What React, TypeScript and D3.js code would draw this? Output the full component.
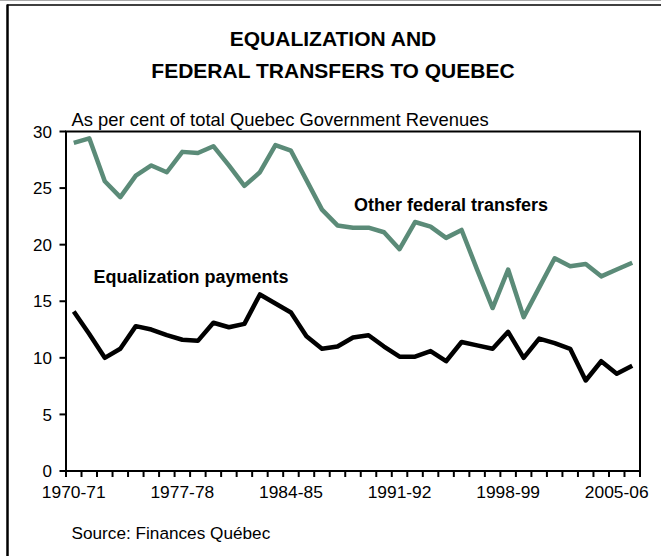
import React from "react";
import * as d3 from "d3";

const years: string[] = Array.from({ length: 37 }, (_, i) => {
  const y = 1970 + i;
  return `${y}-${String((y + 1) % 100).padStart(2, "0")}`;
});

const otherTransfers: number[] = [
  29.0, 29.4, 25.6, 24.2, 26.1, 27.0, 26.4, 28.2, 28.1, 28.7,
  27.0, 25.2, 26.4, 28.8, 28.3, 25.7, 23.1, 21.7, 21.5, 21.5,
  21.1, 19.6, 22.0, 21.6, 20.6, 21.3, 17.8, 14.4, 17.8, 13.6,
  16.2, 18.8, 18.1, 18.3, 17.2, 17.8, 18.4,
];

const equalization: number[] = [
  14.1, 12.1, 10.0, 10.8, 12.8, 12.5, 12.0, 11.6, 11.5, 13.1,
  12.7, 13.0, 15.6, 14.8, 14.0, 11.9, 10.8, 11.0, 11.8, 12.0,
  11.0, 10.1, 10.1, 10.6, 9.7, 11.4, 11.1, 10.8, 12.3, 10.0,
  11.7, 11.3, 10.8, 8.0, 9.7, 8.6, 9.3,
];

const yTicks: number[] = [0, 5, 10, 15, 20, 25, 30];
const xTickLabels: string[] = ["1970-71", "1977-78", "1984-85", "1991-92", "1998-99", "2005-06"];

const FONT = "'Liberation Sans', Arial, Helvetica, sans-serif";
const GREEN = "#5b8b78";

export default function App() {
  const W = 661;
  const H = 556;
  const left = 66;
  const right = 640;
  const top = 131.5;
  const bottom = 471;

  const x = d3.scaleBand<string>().domain(years).range([left, right]).padding(0);
  const y = d3.scaleLinear().domain([0, 30]).range([bottom, top]);
  const cx = (i: number) => (x(years[i]) as number) + x.bandwidth() / 2;

  const line = d3
    .line<number>()
    .x((_, i) => cx(i))
    .y((d) => y(d));

  const boundaries = years.map((yr) => x(yr) as number).concat([right]);

  return (
    <svg
      width={W}
      height={H}
      style={{ position: "absolute", left: 0, top: 0, background: "#fff" }}
      fontFamily={FONT}
    >
      <rect x={0} y={0} width={W} height={H} fill="#fff" />
      <line x1={0} x2={W} y1={0.5} y2={0.5} stroke="#aaa" strokeWidth={1} />
      <line x1={7} x2={W} y1={5} y2={5} stroke="#000" strokeWidth={1.5} />
      <line x1={7.5} x2={7.5} y1={4.5} y2={H} stroke="#000" strokeWidth={2.5} />

      <text x={333} y={46} textAnchor="middle" fontSize={21} fontWeight="bold">
        EQUALIZATION AND
      </text>
      <text x={333} y={78} textAnchor="middle" fontSize={21} fontWeight="bold">
        FEDERAL TRANSFERS TO QUEBEC
      </text>

      <text x={71.5} y={126} fontSize={18.4}>
        As per cent of total Quebec Government Revenues
      </text>

      {/* series */}
      <path d={line(otherTransfers) || ""} fill="none" stroke={GREEN} strokeWidth={4.5} strokeLinejoin="round" />
      <path d={line(equalization) || ""} fill="none" stroke="#000" strokeWidth={4.5} strokeLinejoin="round" />

      {/* frame */}
      <rect x={left} y={top} width={right - left} height={bottom - top} fill="none" stroke="#000" strokeWidth={2} />

      {/* y ticks */}
      {yTicks.map((t) => (
        <g key={t}>
          <line x1={left - 6.5} x2={left} y1={y(t)} y2={y(t)} stroke="#000" strokeWidth={2} />
          <text x={52} y={y(t)} dy="0.36em" textAnchor="end" fontSize={17}>
            {t}
          </text>
        </g>
      ))}

      {/* x ticks */}
      {boundaries.map((b, i) => (
        <line key={i} x1={b} x2={b} y1={bottom} y2={bottom + 6} stroke="#000" strokeWidth={2} />
      ))}
      {xTickLabels.map((lab) => (
        <text key={lab} x={cx(years.indexOf(lab))} y={497.5} textAnchor="middle" fontSize={17.4}>
          {lab}
        </text>
      ))}

      <text x={93.5} y={282.5} fontSize={18} fontWeight="bold">
        Equalization payments
      </text>
      <text x={354} y={210.5} fontSize={18} fontWeight="bold">
        Other federal transfers
      </text>

      <text x={71.5} y={539} fontSize={17.2}>
        Source: Finances Québec
      </text>
    </svg>
  );
}
